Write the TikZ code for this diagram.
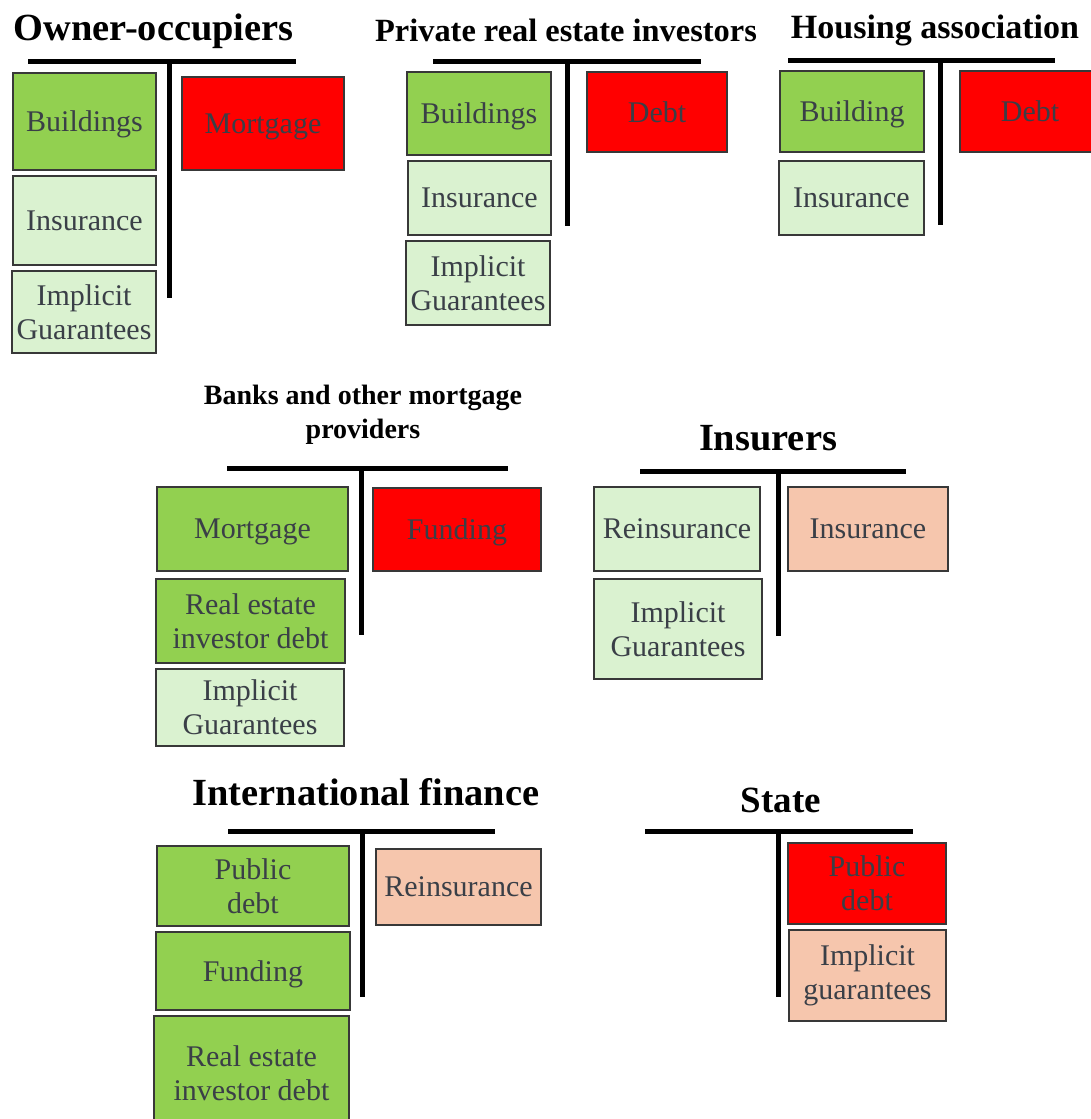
\documentclass[tikz,border=0pt]{standalone}
\usepackage{fontspec}
\setmainfont{Liberation Serif}
\usepackage{tikz}
\definecolor{asset}{HTML}{92D050}
\definecolor{softasset}{HTML}{DAF2D0}
\definecolor{debt}{HTML}{FF0000}
\definecolor{contingent}{HTML}{F6C6AD}
\definecolor{boxtext}{HTML}{3A3F47}
\definecolor{boxline}{HTML}{383838}
\tikzset{
    every node/.style={rectangle, inner sep=0mm, align=center},
    item/.style={draw=boxline, line width=0.6pt, text=boxtext,
        font=\fontsize{15}{17}\selectfont},
    wh/.style 2 args={minimum width=#1*0.5pt, minimum height=#2*0.5pt},
    oneline/.style={text depth=0pt},
    green/.style={item, fill=asset},
    pale/.style={item, fill=softasset},
    red/.style={item, fill=debt},
    peach/.style={item, fill=contingent},
    sector/.style={text=black, font=\fontsize{19.2}{21}\selectfont\bfseries},
    tbar/.style={line width=2.5pt, black}
}

\begin{document}
\begin{tikzpicture}[x=0.5pt, y=-0.5pt]
    \clip (0,0) rectangle (1091,1119);

    % owner-occupiers
    \node (oo) [sector] at (153.5, 31) {Owner-occupiers};
    \draw[tbar] (28,61) -- (296,61) (169,61) -- (169,298);
    \node (oob) [green, oneline, wh={143}{97}] at (84.5, 121.5) {Buildings};
    \node (oom) [red, oneline, wh={162}{93}] at (263, 123.5) {Mortgage};
    \node (ooi) [pale, oneline, wh={143}{89}] at (84.5, 220.5) {Insurance};
    \node (oog) [pale, wh={144}{82}] at (84, 312) {Implicit\\Guarantees};

    % private investors
    \node (pi) [sector, font=\fontsize{16.2}{19}\selectfont\bfseries] at (566, 30) {Private real estate investors};
    \draw[tbar] (433,61) -- (701,61) (567,61) -- (567,226);
    \node (pib) [green, oneline, wh={144}{83}] at (479, 113.5) {Buildings};
    \node (pid) [red, oneline, wh={140}{80}] at (657, 112) {Debt};
    \node (pii) [pale, oneline, wh={143}{74}] at (479.5, 198) {Insurance};
    \node (pig) [pale, wh={144}{84}] at (478, 283) {Implicit\\Guarantees};

    % housing association
    \node (ha) [sector, font=\fontsize{17}{20}\selectfont\bfseries] at (935, 30) {Housing association};
    \draw[tbar] (788,60) -- (1055,60) (940,60) -- (940,225);
    \node (hab) [green, oneline, wh={144}{81}] at (852, 111.5) {Building};
    \node (had) [red, oneline, wh={140}{81}] at (1030, 111.5) {Debt};
    \node (hai) [pale, oneline, wh={145}{74}] at (851.5, 198) {Insurance};

    % banks
    \node (bk) [sector, font=\fontsize{14}{17}\selectfont\bfseries] at (363, 415) {Banks and other mortgage\\providers};
    \draw[tbar] (227,468) -- (508,468) (361,468) -- (361,635);
    \node (bkm) [green, oneline, wh={191}{84}] at (252.5, 529) {Mortgage};
    \node (bkf) [red, oneline, wh={168}{83}] at (457, 529.5) {Funding};
    \node (bkr) [green, wh={189}{84}] at (250.5, 621) {Real estate\\investor debt};
    \node (bkg) [pale, wh={188}{77}] at (250, 707.5) {Implicit\\Guarantees};

    % insurers
    \node (in) [sector] at (768, 438) {Insurers};
    \draw[tbar] (640,471) -- (906,471) (778,471) -- (778,636);
    \node (inr) [pale, oneline, wh={166}{84}] at (677, 529) {Reinsurance};
    \node (ini) [peach, oneline, wh={160}{84}] at (868, 529) {Insurance};
    \node (ing) [pale, wh={168}{100}] at (678, 629) {Implicit\\Guarantees};

    % international finance
    \node (if) [sector] at (366, 792) {International finance};
    \draw[tbar] (228,831) -- (495,831) (362,831) -- (362,997);
    \node (ifp) [green, wh={192}{80}] at (253, 886) {Public\\debt};
    \node (ifr) [peach, oneline, wh={165}{76}] at (458.5, 887) {Reinsurance};
    \node (iff) [green, oneline, wh={194}{78}] at (253, 971) {Funding};
    \node (ifd) [green, wh={195}{114}] at (251.5, 1073) {Real estate\\investor debt};

    % state
    \node (st) [sector, font=\fontsize{18.5}{21}\selectfont\bfseries] at (781, 800) {State};
    \draw[tbar] (645,831) -- (913,831) (778,831) -- (778,997);
    \node (stp) [red, wh={158}{81}] at (867, 883.5) {Public\\debt};
    \node (stg) [peach, wh={157}{91}] at (867.5, 975.5) {Implicit\\guarantees};
\end{tikzpicture}
\end{document}
